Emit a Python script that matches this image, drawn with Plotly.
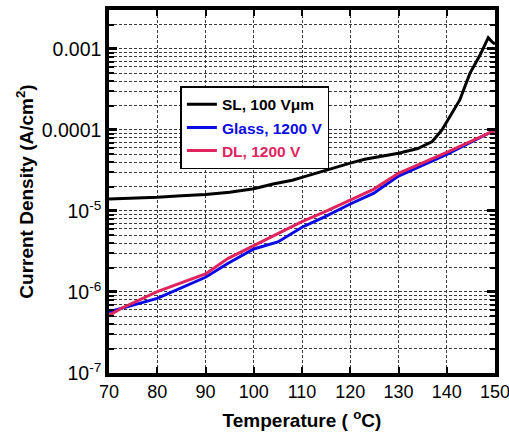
import plotly.graph_objects as go

# Data
sl_T = [70, 75, 80, 85, 90, 95, 98, 100, 104, 108, 110, 115, 120, 123, 126, 130,
        134, 137, 139, 140.5, 142.7, 144.8, 146.9, 148.6, 149.4, 150]
sl_J = [1.41e-5, 1.44e-5, 1.48e-5, 1.54e-5, 1.6e-5, 1.7e-5, 1.8e-5, 1.88e-5, 2.15e-5,
        2.4e-5, 2.6e-5, 3.2e-5, 3.9e-5, 4.35e-5, 4.7e-5, 5.15e-5, 5.9e-5, 7.2e-5,
        1.0e-4, 1.4e-4, 2.35e-4, 5.0e-4, 8.4e-4, 1.38e-3, 1.22e-3, 1.15e-3]

glass_T = [70, 72.6, 80, 90, 94.7, 100, 105, 110, 114.8, 120, 124.8, 130, 140, 149.3, 150]
glass_J = [5.7e-7, 6.3e-7, 8.35e-7, 1.52e-6, 2.26e-6, 3.4e-6, 4.15e-6, 6.3e-6, 8.5e-6,
           1.22e-5, 1.65e-5, 2.7e-5, 5.0e-5, 9.5e-5, 9.8e-5]

dl_T = [70, 72.6, 80, 90, 94.7, 100, 105, 110, 114.8, 120, 124.8, 130, 140, 149.3, 150]
dl_J = [5.15e-7, 6.3e-7, 1.01e-6, 1.67e-6, 2.6e-6, 3.75e-6, 5.3e-6, 7.4e-6, 9.8e-6,
        1.37e-5, 1.85e-5, 2.92e-5, 5.3e-5, 9.5e-5, 9.8e-5]

x_ticks = [70, 80, 90, 100, 110, 120, 130, 140, 150]
x_ticktext = ["70", "80", "90", "100", "110", "120", "130", "140", "150"]
y_tickvals = [1e-7, 1e-6, 1e-5, 1e-4, 1e-3]
y_ticktext = ["10<sup>-7</sup>", "10<sup>-6</sup>", "10<sup>-5</sup>", "0.0001", "0.001"]

minor_vals = []
for e in range(-7, -2):
    for m in range(2, 10):
        minor_vals.append(m * 10 ** e)

FONT = "Arial, 'Liberation Sans', sans-serif"
BLACK = "#000000"
BLUE = "#0a0ae6"
RED = "#e0245e"

fig = go.Figure()
fig.add_trace(go.Scatter(x=sl_T, y=sl_J, mode="lines", line=dict(color=BLACK, width=3),
                         name="<b>SL, 100 Vμm</b>"))
fig.add_trace(go.Scatter(x=glass_T, y=glass_J, mode="lines", line=dict(color=BLUE, width=3),
                         name="<b><span style='color:%s'>Glass, 1200 V</span></b>" % BLUE))
fig.add_trace(go.Scatter(x=dl_T, y=dl_J, mode="lines", line=dict(color=RED, width=3),
                         name="<b><span style='color:%s'>DL, 1200 V</span></b>" % RED))

grid_dash = "3px,2px"
grid_color = "#3a3a3a"

fig.update_xaxes(
    range=[70, 150], tickmode="array", tickvals=x_ticks, ticktext=x_ticktext,
    ticks="inside", ticklen=6, tickwidth=2, ticklabeloverflow="allow",
    tickcolor=BLACK, showline=True, linewidth=3.5, linecolor=BLACK, mirror="ticks",
    showgrid=True, gridcolor=grid_color, griddash=grid_dash, gridwidth=1,
    zeroline=False, tickfont=dict(size=18, color=BLACK, family=FONT),
    automargin=False,
    title=dict(text="<b>Temperature ( <sup>o</sup>C)</b>", font=dict(size=19, color=BLACK, family=FONT),
               standoff=13),
)
fig.update_yaxes(
    type="log", range=[-7, -2.519], tickvals=y_tickvals, ticktext=y_ticktext,
    ticks="inside", ticklen=8, tickwidth=2.5, tickcolor=BLACK, ticklabeloverflow="allow",
    showline=True, linewidth=3.5, linecolor=BLACK, mirror="ticks",
    showgrid=True, gridcolor=grid_color, griddash=grid_dash, gridwidth=1,
    minor=dict(tickvals=minor_vals, ticks="inside", ticklen=5, tickwidth=2, tickcolor=BLACK,
               showgrid=True, gridcolor=grid_color, griddash=grid_dash, gridwidth=1),
    zeroline=False, tickfont=dict(size=19.5, color=BLACK, family=FONT),
    automargin=False,
    title=dict(text="<b>Current Density (A/cm<sup>2</sup>)</b>", font=dict(size=19, color=BLACK, family=FONT),
               standoff=4),
)

fig.update_layout(
    width=509, height=435,
    margin=dict(l=109, r=14, t=10, b=62),
    paper_bgcolor="white", plot_bgcolor="white",
    font=dict(family=FONT, color=BLACK),
    legend=dict(x=0.185, y=0.79, xanchor="left", yanchor="top",
                bgcolor="white", bordercolor=BLACK, borderwidth=1.5,
                font=dict(size=15.5, color=BLACK, family=FONT),
                itemwidth=30, tracegroupgap=0),
    showlegend=True,
)

fig.write_html("out.html", config={"displayModeBar": False},
               post_script="document.body.style.margin='0';document.body.style.padding='0';")
